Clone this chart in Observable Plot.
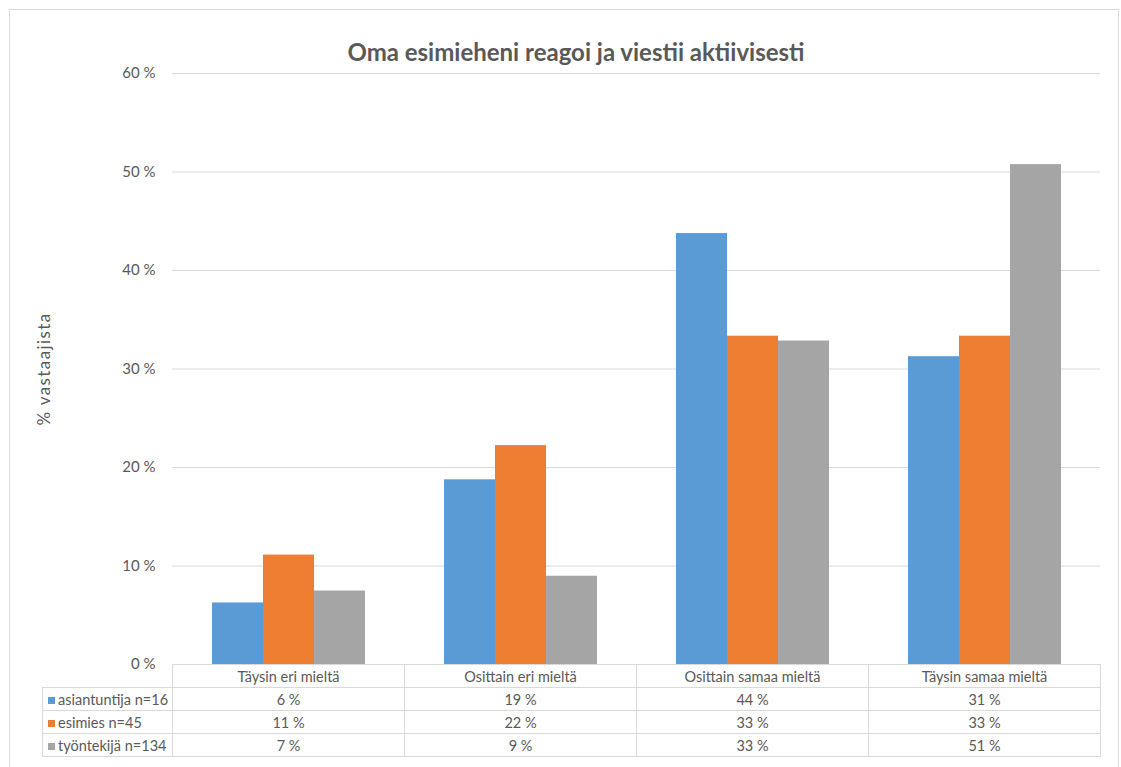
<!DOCTYPE html>
<html>
<head>
<meta charset="utf-8">
<script src="https://cdn.jsdelivr.net/npm/d3@7"></script>
<script src="https://cdn.jsdelivr.net/npm/@observablehq/plot@0.6"></script>
<style>
  html, body { margin: 0; padding: 0; background: #fff; }
  #chart { position: relative; width: 1121px; height: 767px; overflow: hidden; font-family: Lato, "Open Sans", sans-serif; color: #595959; }
  #frame { position: absolute; left: 9px; top: 9px; width: 1110px; height: 780px; border: 1px solid #d9d9d9; box-sizing: border-box; }
  #title { position: absolute; left: 0; width: 1152px; top: 37px; text-align: center; font-size: 24px; font-weight: bold; color: #595959; white-space: nowrap; }
  #ylabel { position: absolute; left: 43px; top: 369px; transform: translate(-50%, -50%) rotate(-90deg); font-size: 17px; letter-spacing: 1.4px; white-space: nowrap; }
  #plot { position: absolute; left: 0; top: 0; }
  #datatable { position: absolute; left: 42px; top: 664px; border-collapse: collapse; font-size: 14.5px; color: #595959; table-layout: fixed; }
  #datatable td { border: 1px solid #d9d9d9; height: 22px; padding: 0; text-align: center; white-space: nowrap; overflow: hidden; }
  #datatable td.blank { border: none; border-right: 1px solid #d9d9d9; }
  #datatable td.key { text-align: left; padding-left: 5px; }
  .swatch { display: inline-block; width: 7px; height: 7px; margin-right: 3px; vertical-align: 1px; }
</style>
</head>
<body>
<div id="chart">
  <div id="frame"></div>
  <div id="title">Oma esimieheni reagoi ja viestii aktiivisesti</div>
  <div id="ylabel">% vastaajista</div>
  <div id="plot"></div>
  <table id="datatable"></table>
</div>
<script>
// Response categories (x groups)
const categories = ["Täysin eri mieltä", "Osittain eri mieltä", "Osittain samaa mieltä", "Täysin samaa mieltä"];
// Respondent groups (series)
const series = ["asiantuntija n=16", "esimies n=45", "työntekijä n=134"];
const seriesColors = ["#5B9BD5", "#ED7D31", "#A5A5A5"];
// Share of respondents, % (one array per series, in category order)
const asiantuntija = [6.25, 18.75, 43.75, 31.25];
const esimies = [11.11, 22.22, 33.33, 33.33];
const tyontekija = [7.46, 8.96, 32.84, 50.75];
const yTicks = [0, 10, 20, 30, 40, 50, 60];

const valuesBySeries = [asiantuntija, esimies, tyontekija];
const rows = [];
series.forEach((s, i) => categories.forEach((c, j) => rows.push({category: c, series: s, value: valuesBySeries[i][j]})));

const chart = Plot.plot({
  width: 1121,
  height: 680,
  marginLeft: 172,
  marginRight: 21,
  marginTop: 73,
  marginBottom: 16,
  style: {fontFamily: "Lato, 'Open Sans', sans-serif", fontSize: "15px", color: "#595959", background: "transparent", overflow: "visible"},
  fx: {domain: categories, padding: 0, axis: null},
  x: {domain: series, paddingInner: 0, paddingOuter: 0.74, axis: null},
  y: {domain: [0, 60], ticks: yTicks, tickFormat: d => `${d} %`, tickSize: 0, tickPadding: 17, label: null},
  color: {domain: series, range: seriesColors},
  marks: [
    Plot.ruleY(yTicks, {stroke: "#d9d9d9", strokeWidth: 1}),
    Plot.barY(rows, {fx: "category", x: "series", y: "value", fill: "series"})
  ]
});
document.getElementById("plot").appendChild(chart);

// Data table under the plot area
const table = d3.select("#datatable");
const colgroup = table.append("colgroup");
colgroup.append("col").style("width", "130px");
categories.forEach(() => colgroup.append("col").style("width", "232px"));
const head = table.append("tr");
head.append("td").attr("class", "blank");
categories.forEach(c => head.append("td").text(c));
const fmt = v => `${Math.round(v)} %`;
series.forEach((s, i) => {
  const tr = table.append("tr");
  const key = tr.append("td").attr("class", "key");
  key.append("span").attr("class", "swatch").style("background", seriesColors[i]);
  key.append("span").text(s);
  valuesBySeries[i].forEach(v => tr.append("td").text(fmt(v)));
});
</script>
</body>
</html>
